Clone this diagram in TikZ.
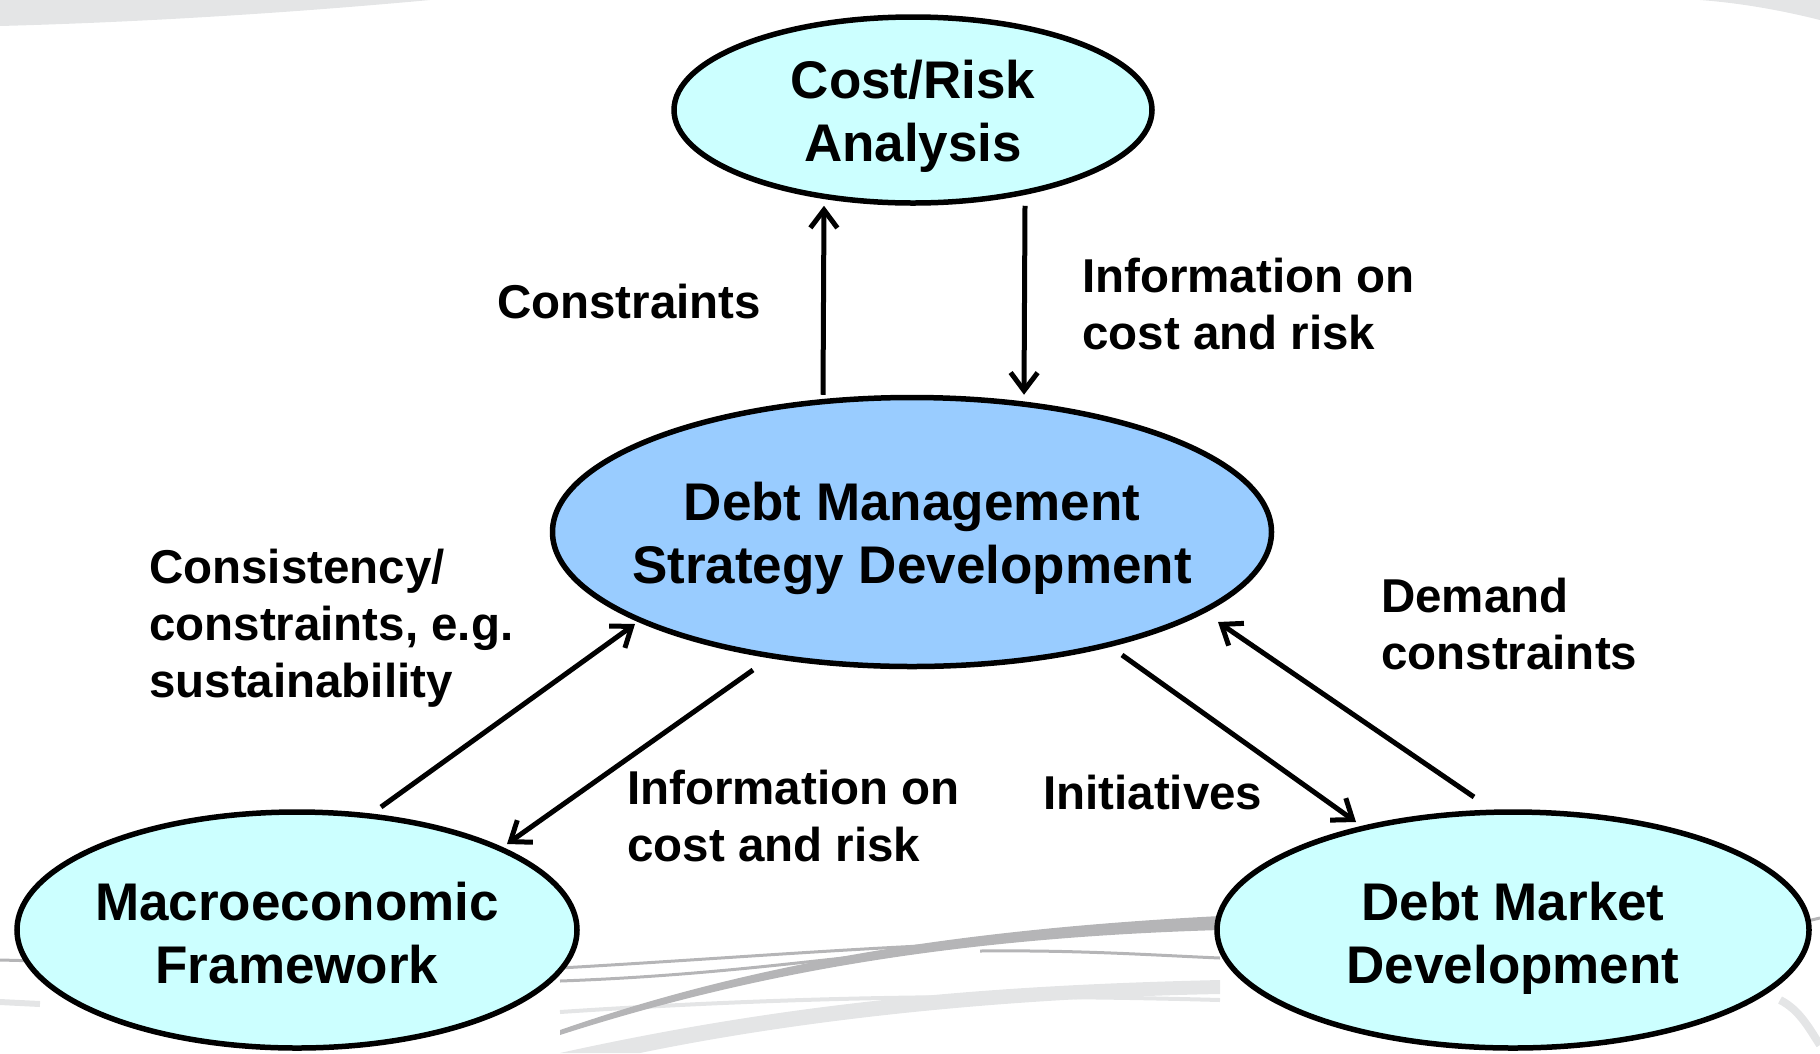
\documentclass[tikz,border=0pt]{standalone}
\usepackage{fontspec}
\setmainfont{Liberation Sans}
\usetikzlibrary{shapes.geometric,arrows.meta,calc}
\definecolor{lightcyan}{HTML}{CCFFFF}
\definecolor{midblue}{HTML}{99CCFF}
\definecolor{swoosh}{HTML}{B5B5B7}
\definecolor{swooshlight}{HTML}{E4E5E6}
\begin{document}
\begin{tikzpicture}[x=1pt,y=-1pt,
  oval/.style={ellipse, draw=black, line width=5.5pt, inner sep=0pt},
  ovaltext/.style={align=center, inner sep=0pt, font=\fontsize{53}{63}\selectfont\bfseries},
  lbl/.style={align=left, anchor=base west, inner sep=0pt, font=\fontsize{47.5}{57}\selectfont\bfseries},
  arr/.style={line width=5pt, -{Straight Barb[length=18pt,width=27pt]}}]
\useasboundingbox (0,0) rectangle (1820,1053);
% background swooshes
\fill[swooshlight] (0,0) -- (430,0) .. controls (300,12) and (150,22) .. (0,26) -- cycle;
\fill[swooshlight] (1700,0) -- (1820,0) -- (1820,20) .. controls (1780,10) and (1740,3) .. (1700,0) -- cycle;
\fill[swooshlight] (560,1053) .. controls (800,1000) and (1000,985) .. (1220,980) -- (1220,994) .. controls (1000,998) and (800,1020) .. (640,1053) -- cycle;
\draw[swooshlight, line width=4pt] (560,1012) .. controls (800,996) and (1000,994) .. (1220,1000);
\fill[swoosh] (560,1030) .. controls (750,964) and (950,930) .. (1220,916) -- (1220,930) .. controls (950,938) and (750,974) .. (560,1035) -- cycle;
\draw[swoosh, line width=3pt] (560,968) .. controls (700,960) and (800,952) .. (920,946);
\draw[swoosh, line width=3pt] (560,981) .. controls (700,976) and (800,962) .. (900,952);
\draw[swoosh, line width=3pt] (980,951) .. controls (1080,950) and (1150,955) .. (1220,958);
\draw[swoosh, line width=3pt] (0,960) -- (40,961);
\draw[swooshlight, line width=6pt] (0,1002) -- (40,1004);
\draw[swoosh, line width=3pt] (1790,925) -- (1820,918);
\draw[swooshlight, line width=8pt] (1780,1000) .. controls (1800,1010) and (1810,1030) .. (1820,1045);
% ellipses
\node[oval, fill=lightcyan, minimum width=478pt, minimum height=186pt,
  label={[ovaltext, yshift=-6pt]center:Cost/Risk\\Analysis}] (cr) at (913,110) {};
\node[oval, fill=midblue, minimum width=719pt, minimum height=269pt,
  label={[ovaltext, yshift=-6pt]center:Debt Management\\Strategy Development}] (dm) at (912,532) {};
\node[oval, fill=lightcyan, minimum width=560pt, minimum height=236pt,
  label={[ovaltext, yshift=-3pt]center:Macroeconomic\\Framework}] (me) at (297,930) {};
\node[oval, fill=lightcyan, minimum width=592pt, minimum height=236pt,
  label={[ovaltext, yshift=-8pt]center:Debt Market\\Development}] (dmk) at (1513,930) {};
% arrows
\draw[arr] ([xshift=-89pt]dm.north) -- ([xshift=-89pt]cr.south);
\draw[arr] ([xshift=112pt]cr.south) -- ([xshift=112pt]dm.north);
\draw[arr] ($(me.center)+(84,-123)$) -- ($(dm.center)+(-277,92)$);
\draw[arr] ($(dm.center)+(-159,138)$) -- ($(me.center)+(210,-86)$);
\draw[arr] ($(dm.center)+(210,123)$) -- ($(dmk.center)+(-157,-108)$);
\draw[arr] ($(dmk.center)+(-39,-133)$) -- ($(dm.center)+(306,90)$);
% labels (anchor = baseline of last line)
\node[lbl] (lc) at (497,318) {Constraints};
\node[lbl] (li1) at (1082,349) {Information on\\cost and risk};
\node[lbl] (lcs) at (149,697) {Consistency/\\constraints, e.g.\\sustainability};
\node[lbl] (li2) at (627,861) {Information on\\cost and risk};
\node[lbl] (lin) at (1043,809) {Initiatives};
\node[lbl] (ld) at (1381,669) {Demand\\constraints};
\end{tikzpicture}
\end{document}
